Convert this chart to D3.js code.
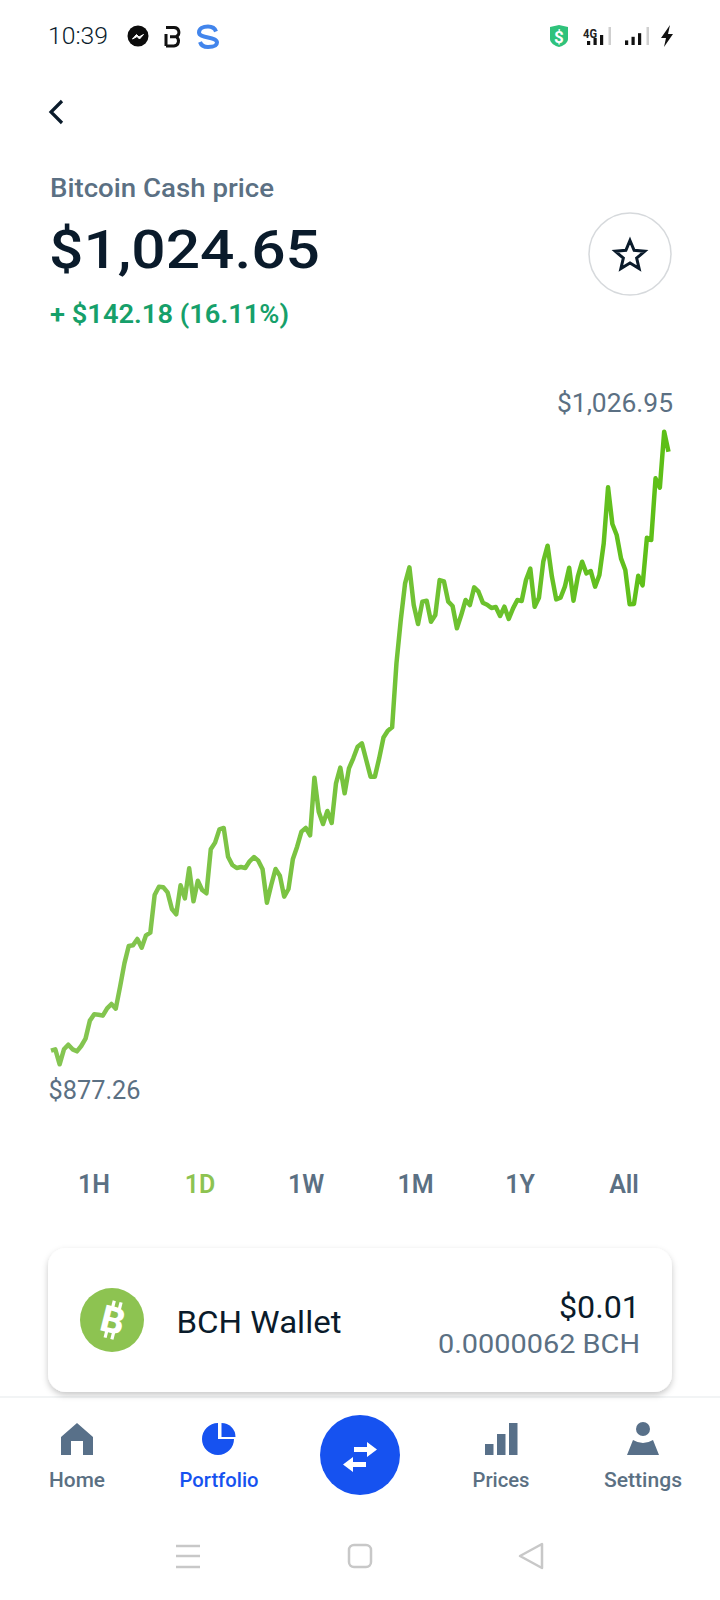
<!DOCTYPE html>
<html>
<head>
<meta charset="utf-8">
<script src="https://cdn.jsdelivr.net/npm/d3@7"></script>
<style>
  html, body { margin: 0; padding: 0; background: #fff; }
  svg { display: block; }
  text { font-family: Roboto, Inter, sans-serif; }
</style>
</head>
<body>
<div id="chart"></div>
<script>
// BCH price over the day left to right
const prices = [
  880.49, 880.80, 877.26, 880.80, 881.91, 880.80, 880.33, 881.59, 883.33, 887.59,
  889.08, 889.00, 888.77, 890.50, 891.53, 890.42, 895.63, 901.15, 905.25, 905.41,
  906.91, 904.86, 907.78, 908.41, 917.32, 919.29, 919.14, 917.95, 914.01, 912.75,
  919.61, 916.53, 923.63, 915.82, 920.71, 918.50, 917.72, 928.13, 929.71, 932.86,
  933.18, 926.39, 924.42, 923.71, 923.95, 923.71, 925.29, 926.31, 925.45, 923.39,
  915.51, 919.69, 923.47, 921.90, 916.93, 918.74, 925.76, 928.76, 932.31, 933.18,
  931.44, 945.09, 937.04, 934.12, 937.20, 934.36, 943.75, 947.45, 941.38, 947.30,
  949.66, 952.42, 953.21, 949.27, 945.33, 945.33, 949.66, 954.60, 956.20, 957.00,
  972.13, 982.39, 991.07, 994.85, 985.94, 981.44, 986.73, 986.96, 981.99, 983.57,
  991.85, 991.54, 986.73, 985.70, 980.42, 983.57, 987.12, 985.94, 990.12, 989.09,
  986.49, 986.02, 985.23, 985.47, 983.34, 985.54, 982.63, 985.15, 987.12, 986.89,
  991.85, 994.54, 985.54, 987.67, 996.19, 999.98, 992.64, 987.28, 987.67, 990.28,
  994.77, 986.96, 992.64, 996.19, 993.43, 993.98, 990.28, 993.04, 1000.53, 1013.78,
  1005.11, 1002.50, 996.98, 994.22, 986.10, 986.18, 992.88, 990.59, 1001.87, 1001.32,
  1015.91, 1013.70, 1026.95, 1022.22
];
const ranges = ["1H", "1D", "1W", "1M", "1Y", "All"];
const navItems = ["Home", "Portfolio", "Prices", "Settings"];
const barHeights = [11, 21, 32];
const starRadii = [15.5, 7, 15.5, 7, 15.5, 7, 15.5, 7, 15.5, 7];

const ink = "#0a1b2b", slate = "#5b7083", navSlate = "#587089", blue = "#1652f0", bch = "#8dc351";
const fmt = d3.format("$,.2f");

const svg = d3.select("#chart").append("svg")
  .attr("width", 720)
  .attr("height", 1600)
  .attr("viewBox", [0, 0, 720, 1600]);

const defs = svg.append("defs");
const grad = defs.append("linearGradient")
  .attr("id", "lineGrad")
  .attr("gradientUnits", "userSpaceOnUse")
  .attr("x1", 51).attr("x2", 668).attr("y1", 0).attr("y2", 0);
grad.append("stop").attr("offset", 0).attr("stop-color", "#85c552");
grad.append("stop").attr("offset", 0.45).attr("stop-color", "#78c33f");
grad.append("stop").attr("offset", 1).attr("stop-color", "#5dbf17");

const shadow = defs.append("filter").attr("id", "cardShadow")
  .attr("x", "-10%").attr("y", "-20%").attr("width", "120%").attr("height", "150%");
shadow.append("feDropShadow")
  .attr("dx", 0).attr("dy", 3).attr("stdDeviation", 3)
  .attr("flood-color", "#000").attr("flood-opacity", 0.22);

function label(txt, x, y, size, weight, fill, anchor, width) {
  const t = svg.append("text")
    .attr("x", x).attr("y", y)
    .attr("font-size", size)
    .attr("font-weight", weight)
    .attr("fill", fill)
    .attr("text-anchor", anchor || "start")
    .text(txt);
  if (width) t.attr("textLength", width).attr("lengthAdjust", "spacingAndGlyphs");
  return t;
}

// status bar
label("10:39", 48, 44, 24, 300, ink, "start", 60);
svg.append("circle").attr("cx", 138).attr("cy", 36).attr("r", 10.5).attr("fill", "#0c0c0c");
svg.append("path").attr("d", "M132 45l0-5 4 0z").attr("fill", "#0c0c0c");
svg.append("path").attr("d", "M132.5 39l4-4.5 2.5 2.5 4.5-2.5-4 4.5-2.5-2.5z")
  .attr("fill", "#fff").attr("stroke", "#fff").attr("stroke-width", 1);
svg.append("path")
  .attr("d", "M166 27.500h8a4.800 4.800 0 0 1 2 9.200a5 5 0 0 1 -2 9.300h-8M166 34v12M170 36.700h5")
  .attr("fill", "none").attr("stroke", "#111").attr("stroke-width", 3);
svg.append("path")
  .attr("d", "M216 31.500c-1-3-4-5-8-5c-5 0-9 2-9 6c0 3 4 4 9 5s9 2 9 5c0 3-4 4.500-9 4.500c-4 0-7-2-8-5")
  .attr("fill", "none").attr("stroke", "#4285ec").attr("stroke-width", 4);
svg.append("path")
  .attr("d", "M550 27l9-2 9 2v12c0 4-5 7-9 8-4-1-9-4-9-8z").attr("fill", "#2fc27b");
label("$", 559, 43, 17, 700, "#fff", "middle");
label("4G", 590, 38, 12, 700, "#222", "middle", 14);
[0, 1, 2].forEach(i => {
  svg.append("rect").attr("x", 587 + i * 6.5).attr("y", 45 - (i + 1) * 3 - 1)
    .attr("width", 3.2).attr("height", (i + 1) * 3 + 1).attr("fill", "#111");
});
svg.append("rect").attr("x", 608.5).attr("y", 27).attr("width", 2.5).attr("height", 18).attr("fill", "#cfcfcf");
[0, 1, 2].forEach(i => {
  svg.append("rect").attr("x", 625 + i * 6.5).attr("y", 45 - (i + 1) * 3.6 - 1)
    .attr("width", 3.2).attr("height", (i + 1) * 3.6 + 1).attr("fill", "#111");
});
svg.append("rect").attr("x", 646.5).attr("y", 27).attr("width", 2.5).attr("height", 18).attr("fill", "#cfcfcf");
svg.append("path").attr("d", "M670 25l-9 13h5l-2 9 9-13h-5z").attr("fill", "#111");

// header
svg.append("path").attr("d", "M62 101l-11 11 11 11")
  .attr("fill", "none").attr("stroke", ink).attr("stroke-width", 3.2);
label("Bitcoin Cash price", 50, 197, 25, 500, slate, "start", 224);
label("$1,024.65", 49, 268, 54, 500, ink, "start", 271);
label("+ $142.18 (16.11%)", 50, 323, 25, 600, "#16a06a", "start", 239);

svg.append("circle").attr("cx", 630).attr("cy", 254).attr("r", 41)
  .attr("fill", "#fff").attr("stroke", "#d6d9dc").attr("stroke-width", 1.5);
const starLine = d3.lineRadial().angle((d, i) => i * Math.PI / 5).radius(d => d).curve(d3.curveLinearClosed);
svg.append("path")
  .attr("d", starLine(starRadii))
  .attr("transform", "translate(630,256)")
  .attr("fill", "none").attr("stroke", ink).attr("stroke-width", 3).attr("stroke-linejoin", "miter");

// price line
const x = d3.scaleLinear().domain([0, prices.length - 1]).range([51, 668.5]);
const y = d3.scaleLinear().domain([d3.min(prices), d3.max(prices)]).range([1064.3, 431.7]);

const line = d3.line()
  .x((d, i) => x(i))
  .y(d => y(d));

svg.append("path")
  .datum(prices)
  .attr("d", line)
  .attr("fill", "none")
  .attr("stroke", "url(#lineGrad)")
  .attr("stroke-width", 4.5)
  .attr("stroke-linejoin", "round");

label(fmt(d3.max(prices)), 673, 412, 25, 400, slate, "end", 116);
label(fmt(d3.min(prices)), 48.5, 1099, 25, 400, slate, "start", 92);

// range switch
const rangeX = d3.scaleOrdinal().domain(ranges).range([94, 200, 306, 415.5, 520, 624]);
ranges.forEach(r => {
  label(r, rangeX(r), 1193, 25, 600, r === "1D" ? bch : slate, "middle");
});

// wallet card
svg.append("line").attr("x1", 0).attr("x2", 720).attr("y1", 1397).attr("y2", 1397)
  .attr("stroke", "#eef0f2").attr("stroke-width", 1.5);
svg.append("rect").attr("x", 48).attr("y", 1248).attr("width", 624).attr("height", 144).attr("rx", 18)
  .attr("fill", "#fff").attr("filter", "url(#cardShadow)");
svg.append("circle").attr("cx", 112).attr("cy", 1320).attr("r", 32).attr("fill", bch);
const coin = svg.append("g").attr("transform", "translate(113,1320) rotate(14)");
coin.append("text").attr("text-anchor", "middle").attr("y", 13).attr("font-size", 37)
  .attr("font-weight", 800).attr("fill", "#fff").text("B");
[-5, 2].forEach(dx => {
  coin.append("rect").attr("x", dx).attr("y", -19).attr("width", 3.2).attr("height", 7).attr("fill", "#fff");
  coin.append("rect").attr("x", dx).attr("y", 12).attr("width", 3.2).attr("height", 7).attr("fill", "#fff");
});
label("BCH Wallet", 176.5, 1333, 31, 400, ink, "start", 165);
label("$0.01", 640, 1318, 31, 400, ink, "end", 81);
label("0.0000062 BCH", 640, 1353, 26, 400, slate, "end", 202);

// bottom nav
const navX = { Home: 77, Portfolio: 219, Prices: 501, Settings: 643 };
const navW = { Home: 56, Portfolio: 79, Prices: 57, Settings: 78 };
navItems.forEach(n => {
  label(n, navX[n], 1487, 21, 500, n === "Portfolio" ? blue : slate, "middle", navW[n]);
});

svg.append("path").attr("d", "M61 1437l16-14 16 14v18h-10v-14h-12v14h-10z").attr("fill", navSlate);

const arc = d3.arc();
svg.append("path")
  .attr("d", arc({ innerRadius: 0, outerRadius: 16, startAngle: Math.PI / 2, endAngle: 2 * Math.PI }))
  .attr("transform", "translate(218,1439)").attr("fill", blue);
svg.append("path")
  .attr("d", arc({ innerRadius: 0, outerRadius: 14, startAngle: 0, endAngle: Math.PI / 2 }))
  .attr("transform", "translate(221.500,1437)").attr("fill", blue);

svg.append("circle").attr("cx", 360).attr("cy", 1455).attr("r", 40).attr("fill", blue);
svg.append("path").attr("d", "M354 1447h13v-5l10 7.500-10 7.500v-5h-13z").attr("fill", "#fff");
svg.append("path").attr("d", "M366 1462h-13v-5l-10 7.500 10 7.500v-5h13z").attr("fill", "#fff");

barHeights.forEach((h, i) => {
  svg.append("rect").attr("x", 485 + i * 12).attr("y", 1455 - h).attr("width", 8.500).attr("height", h).attr("fill", navSlate);
});

svg.append("circle").attr("cx", 643).attr("cy", 1429).attr("r", 7).attr("fill", navSlate);
svg.append("path").attr("d", "M627 1455l6-15q10 6 20 0l6 15z").attr("fill", navSlate);

// android nav
[1546, 1556, 1567].forEach(ly => {
  svg.append("line").attr("x1", 176).attr("x2", 200).attr("y1", ly).attr("y2", ly)
    .attr("stroke", "#c8c8c8").attr("stroke-width", 2.5);
});
svg.append("rect").attr("x", 349).attr("y", 1545).attr("width", 22).attr("height", 22).attr("rx", 5)
  .attr("fill", "none").attr("stroke", "#c8c8c8").attr("stroke-width", 2.5);
svg.append("path").attr("d", "M542 1544v24l-22-12z")
  .attr("fill", "none").attr("stroke", "#c8c8c8").attr("stroke-width", 2.5).attr("stroke-linejoin", "round");
</script>
</body>
</html>
